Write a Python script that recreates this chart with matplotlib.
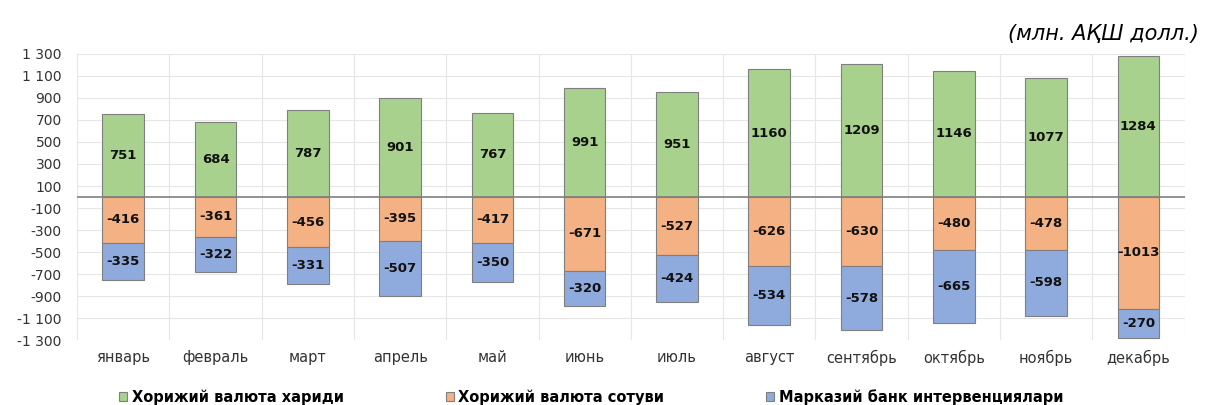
import matplotlib
matplotlib.use("Agg")
import matplotlib.pyplot as plt
import numpy as np

plt.rcParams["font.family"] = ["DejaVu Sans"]

months = ["январь", "февраль", "март", "апрель", "май", "июнь",
          "июль", "август", "сентябрь", "октябрь", "ноябрь", "декабрь"]
purchase = [751, 684, 787, 901, 767, 991, 951, 1160, 1209, 1146, 1077, 1284]
sales = [-416, -361, -456, -395, -417, -671, -527, -626, -630, -480, -478, -1013]
interv = [-335, -322, -331, -507, -350, -320, -424, -534, -578, -665, -598, -270]

labels = ["Хорижий валюта хариди", "Хорижий валюта сотуви",
          "Марказий банк интервенциялари"]
colors = ["#A9D18E", "#F4B183", "#8FAADC"]
yticks = list(range(-1300, 1301, 200))

fig = plt.figure(figsize=(12.05, 4.05), dpi=100)
ax = fig.add_axes([0.064, 0.160, 0.919, 0.707])

x = np.arange(len(months))
w = 0.45
edge = "#7F7F7F"
b1 = ax.bar(x, purchase, w, color=colors[0], edgecolor=edge, linewidth=0.8, zorder=3)
b2 = ax.bar(x, sales, w, color=colors[1], edgecolor=edge, linewidth=0.8, zorder=3)
b3 = ax.bar(x, interv, w, bottom=sales, color=colors[2], edgecolor=edge, linewidth=0.8, zorder=3)

for i in range(len(months)):
    ax.text(x[i], purchase[i] / 2, str(purchase[i]), ha="center", va="center",
            fontsize=9.5, fontweight="bold", color="#111111", zorder=4)
    ax.text(x[i], sales[i] / 2, str(sales[i]), ha="center", va="center",
            fontsize=9.5, fontweight="bold", color="#111111", zorder=4)
    ax.text(x[i], sales[i] + interv[i] / 2, str(interv[i]), ha="center", va="center",
            fontsize=9.5, fontweight="bold", color="#111111", zorder=4)

ax.set_xlim(-0.5, len(months) - 0.5)
ax.set_ylim(-1300, 1300)
ax.set_yticks(yticks)
ax.set_yticklabels([f"{v:,}".replace(",", " ") for v in yticks], fontsize=10)
ax.set_xticks(x)
ax.set_xticklabels(months, fontsize=10.5)
ax.tick_params(axis="y", length=0, pad=11, colors="#333333")
ax.tick_params(axis="x", length=0, pad=7, colors="#333333")

# grid
ax.grid(axis="y", color="#E6E6E6", linewidth=0.8, zorder=0)
for b in np.arange(-0.5, len(months), 1.0):
    ax.axvline(b, color="#E6E6E6", linewidth=0.8, zorder=0)
ax.axhline(0, color="#7F7F7F", linewidth=1.2, zorder=5)
for sp in ax.spines.values():
    sp.set_visible(False)

fig.legend([b1, b2, b3], labels, loc="center left", bbox_to_anchor=(0.088, 0.02),
           ncol=3, frameon=False, handlelength=0.55, handleheight=0.55,
           handletextpad=0.3, columnspacing=7.0,
           prop={"size": 10.5, "weight": "bold"})

fig.text(0.995, 0.915, "(млн. АҚШ долл.)", ha="right", va="center",
         fontsize=15, style="italic")

fig.savefig("out.png", dpi=100)
